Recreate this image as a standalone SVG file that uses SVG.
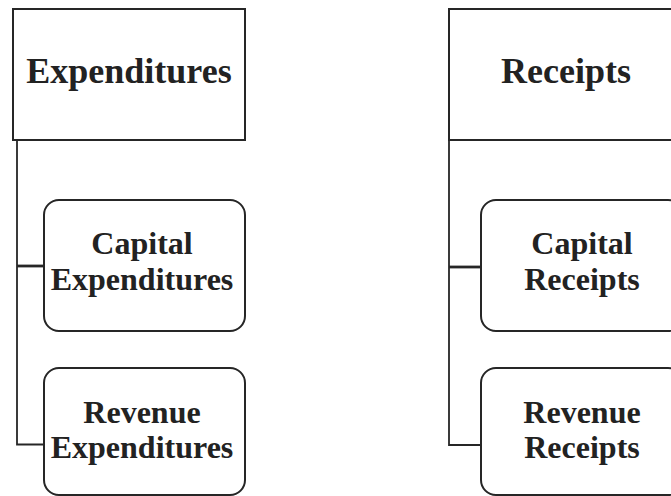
<svg xmlns="http://www.w3.org/2000/svg" width="671" height="496" viewBox="0 0 671 496">
<style>
.box{fill:#fff;stroke:#262626;stroke-width:2}
.ln{fill:none;stroke:#262626;stroke-width:1.8}
.lnb{fill:none;stroke:#262626;stroke-width:2.8}
.t1{font-family:"Liberation Serif","Times New Roman",serif;font-weight:bold;font-size:36px;fill:#222;text-anchor:middle}
.t2{font-family:"Liberation Serif","Times New Roman",serif;font-weight:bold;font-size:32px;fill:#222;text-anchor:middle}
</style>
<rect width="671" height="496" fill="#fff"/>
<g id="connectors">
<path class="ln" d="M17,140 V444.5 H44"/>
<path class="lnb" d="M17,266 H44"/>
<path class="ln" d="M449,140 V445 H481"/>
<path class="lnb" d="M449,267 H481"/>
</g>
<g id="expenditures">
<rect class="box" x="13" y="9" width="232" height="131"/>
<text class="t1" x="129" y="83">Expenditures</text>
</g>
<g id="capital-expenditures">
<rect class="box" x="44" y="200" width="201" height="131" rx="15"/>
<text class="t2" x="142" y="254">Capital</text>
<text class="t2" x="142" y="290">Expenditures</text>
</g>
<g id="revenue-expenditures">
<rect class="box" x="44" y="368" width="201" height="127" rx="15"/>
<text class="t2" x="142" y="423">Revenue</text>
<text class="t2" x="142" y="458">Expenditures</text>
</g>
<g id="receipts">
<rect class="box" x="449" y="9" width="234" height="131"/>
<text class="t1" x="566" y="83">Receipts</text>
</g>
<g id="capital-receipts">
<rect class="box" x="481" y="200" width="202" height="131" rx="15"/>
<text class="t2" x="582" y="254">Capital</text>
<text class="t2" x="582" y="290">Receipts</text>
</g>
<g id="revenue-receipts">
<rect class="box" x="481" y="368" width="202" height="127" rx="15"/>
<text class="t2" x="582" y="423">Revenue</text>
<text class="t2" x="582" y="458">Receipts</text>
</g>
</svg>
